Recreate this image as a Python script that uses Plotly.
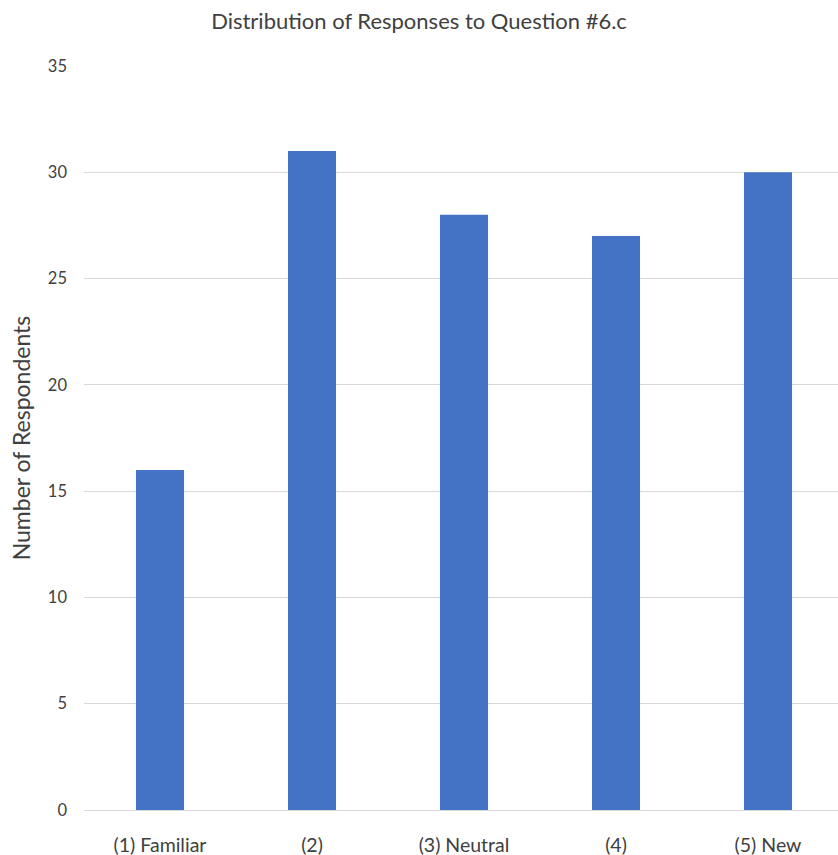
import plotly.graph_objects as go

# Survey responses for question 6.c
categories = ["(1) Familiar", "(2)", "(3) Neutral", "(4)", "(5) New"]
counts = [16, 31, 28, 27, 30]
y_ticks = [0, 5, 10, 15, 20, 25, 30, 35]

FONT = "Lato, 'Open Sans', sans-serif"
TEXT = "#404040"

fig = go.Figure(
    go.Bar(
        x=list(range(len(categories))),
        y=counts,
        width=0.316,
        marker=dict(color="#4472C4", line=dict(width=0)),
        hoverinfo="x+y",
    )
)

fig.update_layout(
    width=838,
    height=855,
    margin=dict(l=84, r=0, t=66, b=45),
    paper_bgcolor="white",
    plot_bgcolor="white",
    showlegend=False,
    title=dict(
        text="Distribution of Responses to Question #6.c",
        x=0.5,
        xanchor="center",
        y=1 - 21 / 855,
        yanchor="middle",
        font=dict(family=FONT, size=22, color=TEXT),
    ),
    font=dict(family=FONT, color=TEXT),
)

fig.update_xaxes(
    range=[-0.5, 4.4605],
    tickmode="array",
    tickvals=list(range(len(categories))),
    ticktext=categories,
    tickfont=dict(family=FONT, size=19.5, color=TEXT),
    showgrid=False,
    zeroline=False,
    showline=True,
    linecolor="#d9d9d9",
    linewidth=1,
    ticks="",
    ticklabelstandoff=18,
)

fig.update_yaxes(
    range=[0, 35],
    tickmode="array",
    tickvals=y_ticks,
    tickfont=dict(family=FONT, size=16.5, color=TEXT),
    showgrid=True,
    gridcolor="#d9d9d9",
    gridwidth=1,
    zeroline=False,
    showline=False,
    ticks="",
    ticklabelstandoff=16,
    title=dict(
        text="Number of Respondents",
        font=dict(family=FONT, size=23, color=TEXT),
        standoff=10,
    ),
)

fig.write_html("out.html")
